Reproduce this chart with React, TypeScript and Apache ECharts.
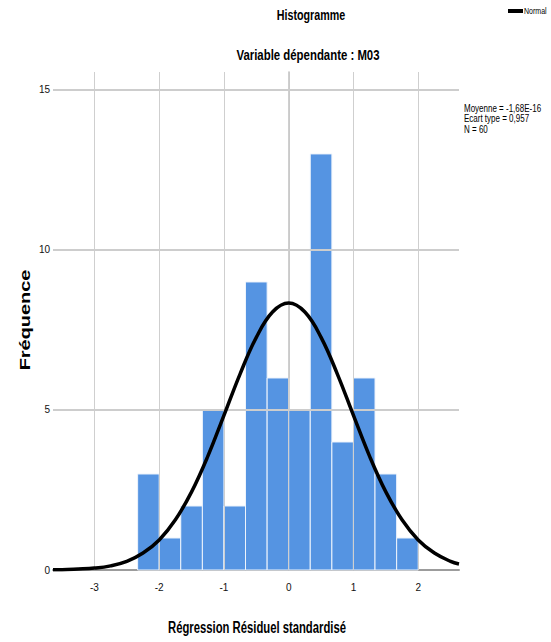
import React, { useEffect, useRef } from "react";
import * as echarts from "echarts";

// Histogram bins (standardized residual), width 1/3
const binEdges = [-2.333, -2, -1.667, -1.333, -1, -0.667, -0.333, 0, 0.333, 0.667, 1, 1.333, 1.667, 2];
const binCounts = [3, 1, 2, 5, 2, 9, 6, 5, 13, 4, 6, 3, 1];

// Normal curve
const curveX = [-3.64, -3.5, -3.25, -3, -2.75, -2.5, -2.25, -2, -1.75, -1.5, -1.25, -1, -0.75, -0.5, -0.25, 0, 0.25, 0.5, 0.75, 1, 1.25, 1.5, 1.75, 2, 2.25, 2.5, 2.63];
const curveY = [0.01, 0.01, 0.03, 0.06, 0.13, 0.27, 0.53, 0.94, 1.57, 2.44, 3.55, 4.83, 6.13, 7.27, 8.06, 8.34, 8.06, 7.27, 6.13, 4.83, 3.55, 2.44, 1.57, 0.94, 0.53, 0.27, 0.19];

const xTicks = [-3, -2, -1, 0, 1, 2];
const yTicks = [0, 5, 10, 15];
const gridY = [5, 10, 15];

const statsLines = ["Moyenne = -1,68E-16", "Ecart type = 0,957", "N = 60"];

const SANS = "'Liberation Sans', Arial, sans-serif";

export default function App() {
  const ref = useRef<HTMLDivElement>(null);
  useEffect(() => {
    if (!ref.current) return;
    const chart = echarts.init(ref.current, null, { renderer: "svg" });
    const barData = binCounts.map((c, i) => [binEdges[i], binEdges[i + 1], c]);
    const curveData = curveX.map((x, i) => [x, curveY[i]]);
    chart.setOption({
      animation: false,
      backgroundColor: "#ffffff",
      grid: { left: 53, right: 92, top: 72, bottom: 72, containLabel: false },
      xAxis: {
        type: "value",
        min: -3.64,
        max: 2.63,
        splitLine: { show: false },
        axisTick: { show: false },
        axisLine: { show: true, onZero: false, lineStyle: { color: "#9c9c9c", width: 2 } },
        axisLabel: {
          customValues: xTicks,
          color: "#111",
          fontFamily: SANS,
          fontSize: 10,
          margin: 12,
        },
      },
      yAxis: {
        type: "value",
        min: 0,
        max: 15.56,
        splitLine: { show: false },
        axisTick: { show: false },
        axisLine: { show: true, lineStyle: { color: "#b8b8b8", width: 1.5 } },
        axisLabel: {
          customValues: yTicks,
          color: "#111",
          fontFamily: SANS,
          fontSize: 10,
          margin: 3,
        },
      },
      series: [
        {
          type: "line",
          data: [[0, 0]],
          symbol: "none",
          lineStyle: { opacity: 0 },
          z: 0,
          silent: true,
          markLine: {
            silent: true,
            symbol: ["none", "none"],
            label: { show: false },
            animation: false,
            data: [
              ...xTicks.map((v) => ({ xAxis: v, lineStyle: { color: "#cfcfcf", width: 1, type: "solid" } })),
              ...gridY.map((v) => ({ yAxis: v, lineStyle: { color: "#cdcdcd", width: 2, type: "solid" } })),
            ],
          },
        },
        {
          type: "custom",
          z: 2,
          data: barData,
          encode: { x: [0, 1], y: 2 },
          renderItem: (params: any, api: any) => {
            const x0 = api.value(0);
            const x1 = api.value(1);
            const y = api.value(2);
            const p0 = api.coord([x0, y]);
            const p1 = api.coord([x1, 0]);
            return {
              type: "rect",
              shape: { x: p0[0], y: p0[1], width: p1[0] - p0[0], height: p1[1] - p0[1] },
              style: { fill: "#5594e2", stroke: "#eef4fc", lineWidth: 1 },
            };
          },
        },
        {
          type: "line",
          z: 5,
          data: curveData,
          smooth: 0.4,
          symbol: "none",
          clip: true,
          lineStyle: { color: "#000", width: 3.5 },
        },
      ],
      graphic: [
        {
          type: "text",
          x: 311,
          y: 15,
          scaleX: 0.74,
          style: { text: "Histogramme", fontFamily: SANS, fontSize: 14.5, fontWeight: "bold", fill: "#000", align: "center", verticalAlign: "middle" },
        },
        {
          type: "text",
          x: 308,
          y: 55,
          scaleX: 0.76,
          style: { text: "Variable dépendante : M03", fontFamily: SANS, fontSize: 15, fontWeight: "bold", fill: "#000", align: "center", verticalAlign: "middle" },
        },
        {
          type: "text",
          x: 257,
          y: 627,
          scaleX: 0.705,
          style: { text: "Régression Résiduel standardisé", fontFamily: SANS, fontSize: 16, fontWeight: "bold", fill: "#000", align: "center", verticalAlign: "middle" },
        },
        {
          type: "text",
          x: 25,
          y: 320,
          rotation: Math.PI / 2,
          scaleX: 1.33,
          style: { text: "Fréquence", fontFamily: SANS, fontSize: 15, fontWeight: "bold", fill: "#000", align: "center", verticalAlign: "middle" },
        },
        {
          type: "text",
          x: 464,
          y: 103,
          scaleX: 0.8,
          style: { text: statsLines.join("\n"), fontFamily: SANS, fontSize: 10, lineHeight: 10.5, fill: "#000", align: "left", verticalAlign: "top" },
        },
        {
          type: "rect",
          shape: { x: 508, y: 9, width: 15, height: 4 },
          style: { fill: "#000" },
        },
        {
          type: "text",
          x: 524,
          y: 11,
          scaleX: 0.78,
          style: { text: "Normal", fontFamily: SANS, fontSize: 9, fill: "#000", align: "left", verticalAlign: "middle" },
        },
      ],
    });
    return () => chart.dispose();
  }, []);
  return (
    <div
      ref={ref}
      style={{ position: "fixed", left: 0, top: 0, width: 551, height: 642, background: "#fff" }}
    />
  );
}
